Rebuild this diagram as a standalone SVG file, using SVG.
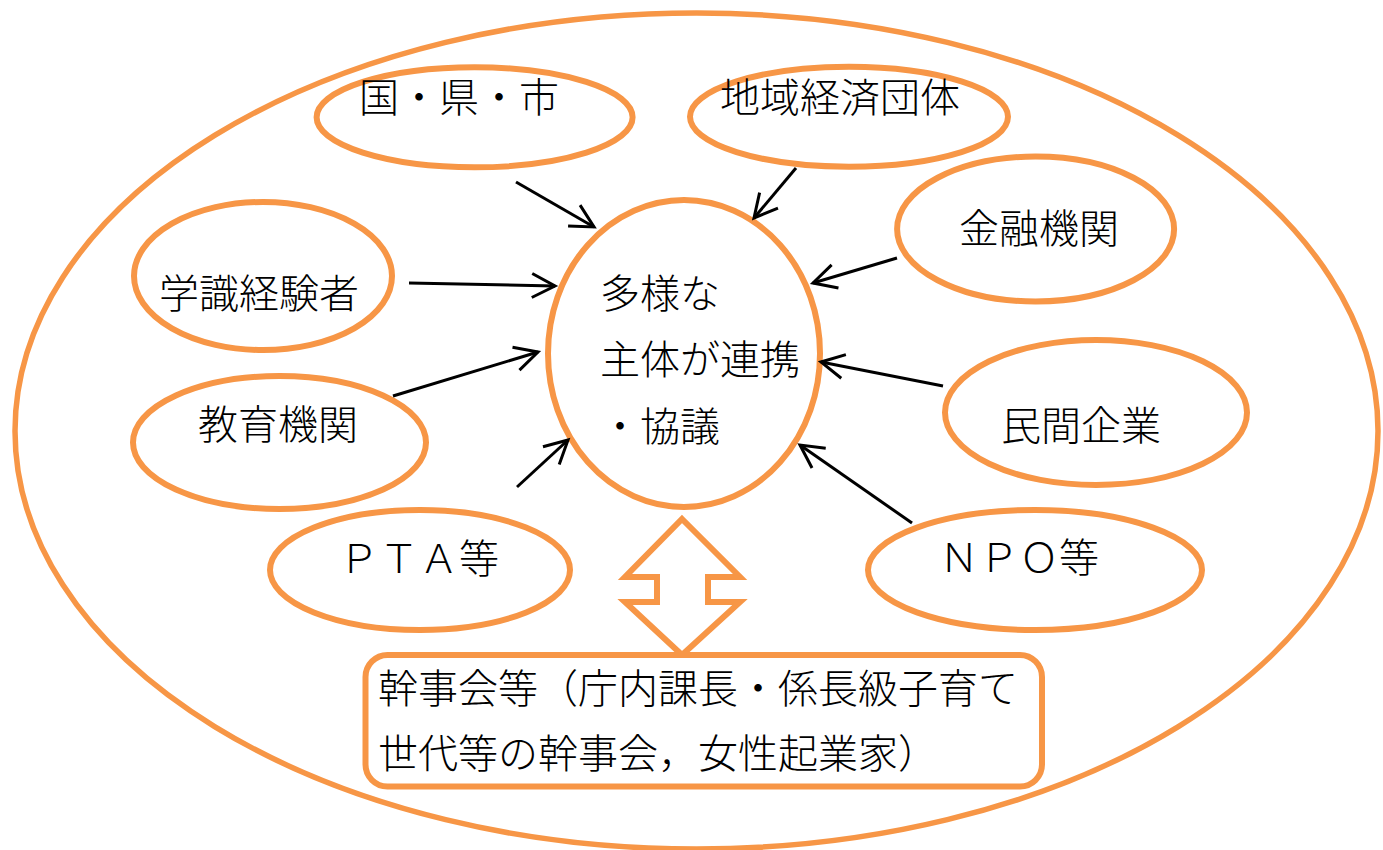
<svg xmlns="http://www.w3.org/2000/svg" width="1383" height="850" viewBox="0 0 1383 850">
<defs>
<style>
.o{fill:#fff;stroke:#F79646;stroke-width:6}
.t{font-family:"Noto Sans CJK JP","Noto Sans CJK SC",sans-serif;font-size:40px;fill:#000;font-weight:300}
.c{stroke:#000;stroke-width:3;fill:none;marker-end:url(#ah)}
</style>
<marker id="ah" markerUnits="userSpaceOnUse" markerWidth="34" markerHeight="30" viewBox="0 0 34 30" refX="29" refY="15" orient="auto" overflow="visible">
<path d="M6,3 L29,15 L6,27" fill="none" stroke="#000" stroke-width="3"/>
</marker>
</defs>
<rect width="1383" height="850" fill="#fff"/>
<g id="outer"><ellipse cx="696.5" cy="431" rx="681.5" ry="418" fill="none" stroke="#F79646" stroke-width="5.5"/></g>
<g id="center"><ellipse class="o" cx="684" cy="353.5" rx="136" ry="153.5"/>
<text class="t" x="600" y="308">多様な</text>
<text class="t" x="600" y="374">主体が連携</text>
<text class="t" x="600" y="441">・協議</text></g>
<g id="n-kuni"><ellipse class="o" cx="474.6" cy="117.3" rx="158" ry="50"/><text class="t" x="359" y="112">国・県・市</text></g>
<g id="n-chiiki"><ellipse class="o" cx="849" cy="116.7" rx="159" ry="50"/><text class="t" x="720" y="112">地域経済団体</text></g>
<g id="n-kinyu"><ellipse class="o" cx="1035.6" cy="229" rx="138.5" ry="72.5"/><text class="t" x="959" y="243">金融機関</text></g>
<g id="n-gakushiki"><ellipse class="o" cx="263" cy="276" rx="129" ry="74"/><text class="t" x="159" y="308">学識経験者</text></g>
<g id="n-kyoiku"><ellipse class="o" cx="279.5" cy="442.5" rx="146.5" ry="66.5"/><text class="t" x="198" y="439">教育機関</text></g>
<g id="n-minkan"><ellipse class="o" cx="1096" cy="412.5" rx="151" ry="72.5"/><text class="t" x="1001" y="440">民間企業</text></g>
<g id="n-pta"><ellipse class="o" cx="420" cy="570" rx="150" ry="60"/><text class="t" x="339" y="573">ＰＴＡ等</text></g>
<g id="n-npo"><ellipse class="o" cx="1035" cy="570" rx="167" ry="60"/><text class="t" x="939" y="572">ＮＰＯ等</text></g>
<g id="connectors">
<line class="c" x1="516" y1="182" x2="594" y2="227"/>
<line class="c" x1="796" y1="168" x2="754" y2="218"/>
<line class="c" x1="897" y1="258" x2="813" y2="283"/>
<line class="c" x1="409" y1="283" x2="555" y2="286"/>
<line class="c" x1="393" y1="396" x2="538" y2="352"/>
<line class="c" x1="943" y1="386" x2="821" y2="362"/>
<line class="c" x1="517" y1="487" x2="568" y2="440"/>
<line class="c" x1="912" y1="523" x2="800" y2="445"/>
<polygon points="682,519 740,577 708,577 708,602 740,602 682,655 625,602 657,602 657,577 625,577" fill="#fff" stroke="#F79646" stroke-width="6" stroke-linejoin="miter"/>
</g>
<g id="kanjikai"><rect class="o" x="365.5" y="655" width="676.5" height="131.5" rx="22" ry="22"/>
<text class="t" x="378" y="703">幹事会等（庁内課長・係長級子育て</text>
<text class="t" x="378" y="768">世代等の幹事会，女性起業家）</text></g>
</svg>
